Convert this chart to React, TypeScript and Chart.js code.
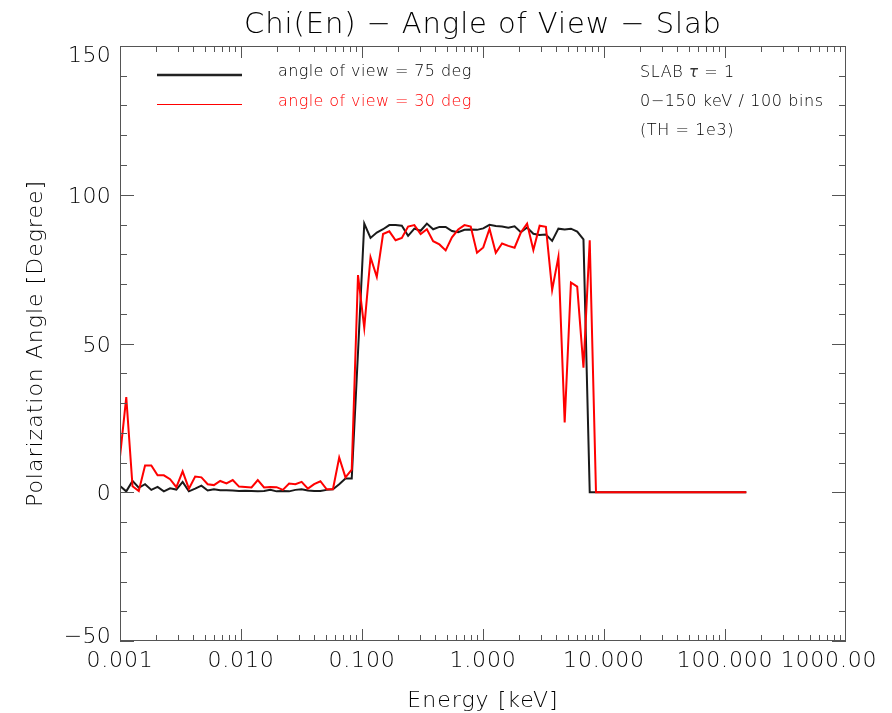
import React, { useEffect, useRef } from "react";
import { Chart, registerables } from "chart.js";

Chart.register(...registerables);

// Energy bins (keV): 0.001 - 150 keV, log-spaced
const energies = [
  0.001, 0.0011266, 0.0012692, 0.0014298, 0.0016108, 0.0018147, 0.0020444, 0.0023032, 0.0025947, 0.0029231,
  0.0032931, 0.00371, 0.0041796, 0.0047086, 0.0053046, 0.0059761, 0.0067325, 0.0075847, 0.0085447, 0.0096263,
  0.010845, 0.012217, 0.013764, 0.015506, 0.017469, 0.01968, 0.022171, 0.024977, 0.028139, 0.031701,
  0.035713, 0.040234, 0.045326, 0.051064, 0.057527, 0.064809, 0.073012, 0.082254, 0.092665, 0.10439,
  0.11761, 0.13249, 0.14926, 0.16816, 0.18944, 0.21342, 0.24044, 0.27087, 0.30515, 0.34378,
  0.38729, 0.43632, 0.49154, 0.55376, 0.62386, 0.70282, 0.79179, 0.89201, 1.0049, 1.1321,
  1.2754, 1.4369, 1.6187, 1.8236, 2.0545, 2.3145, 2.6075, 2.9375, 3.3093, 3.7282,
  4.2001, 4.7318, 5.3307, 6.0054, 6.7656, 7.622, 8.5867, 9.6736, 10.898, 12.277,
  13.832, 15.582, 17.555, 19.777, 22.28, 25.1, 28.277, 31.857, 35.889, 40.431,
  45.549, 51.315, 57.81, 65.127, 73.371, 82.658, 93.12, 104.91, 118.19, 133.15,
  150.0,
];

// angle of view = 75 deg (black)
const chi75 = [
  2.1, 0.3, 3.8, 1.5, 2.7, 0.8, 1.8, 0.3, 1.3, 0.9,
  3.5, 0.3, 1.2, 2.2, 0.6, 1.0, 0.7, 0.7, 0.6, 0.4,
  0.5, 0.4, 0.3, 0.4, 0.8, 0.3, 0.4, 0.3, 0.8, 1.0,
  0.6, 0.4, 0.4, 0.8, 1.0, 2.7, 4.6, 4.6, 47, 90.3,
  85.5, 87.3, 88.4, 89.8, 89.8, 89.6, 86.2, 88.6, 87.9, 90.3,
  88.4, 89.2, 89.2, 87.8, 87.4, 88.2, 88.3, 88.2, 88.7, 89.9,
  89.5, 89.3, 88.9, 89.4, 87.4, 89.0, 86.9, 86.5, 86.6, 84.5,
  88.6, 88.3, 88.6, 87.6, 85.0, 0, 0, 0, 0, 0,
  0, 0, 0, 0, 0, 0, 0, 0, 0, 0,
  0, 0, 0, 0, 0, 0, 0, 0, 0, 0,
  0,
];

// angle of view = 30 deg (red)
const chi30 = [
  12, 32, 2, 0.4, 9, 9, 5.7, 5.7, 4.4, 1.7,
  7, 1.2, 5.3, 5, 2.7, 2.4, 3.8, 3, 4.1, 1.9,
  1.8, 1.6, 4.1, 1.6, 1.8, 1.7, 0.8, 2.9, 2.7, 3.5,
  1.2, 2.7, 3.7, 1.0, 1.0, 11.7, 5, 7.6, 73, 55.3,
  79, 72.4, 86.8, 87.7, 84.7, 85.5, 89.3, 89.8, 86.8, 88.4,
  84.4, 83.3, 81.3, 85.7, 88.3, 89.8, 89.3, 80.5, 82.3, 88.6,
  80.5, 83.6, 82.8, 82.2, 87.3, 90.3, 81.4, 89.6, 89.2, 68,
  79.1, 23.5, 70.5, 69.1, 41.9, 84.7, 0, 0, 0, 0,
  0, 0, 0, 0, 0, 0, 0, 0, 0, 0,
  0, 0, 0, 0, 0, 0, 0, 0, 0, 0,
  0,
];

const xMajorTicks = [0.001, 0.01, 0.1, 1, 10, 100, 1000];
const xTickLabels = ["0.001", "0.010", "0.100", "1.000", "10.000", "100.000", "1000.00"];
const yMajorTicks = [-50, 0, 50, 100, 150];
const yTickLabels = ["\u221250", "0", "50", "100", "150"];
const yMinorStep = 10;

const titleText = "Chi(En) \u2212 Angle of View \u2212 Slab";
const xTitle = "Energy [keV]";
const yTitle = "Polarization Angle [Degree]";
const legendLabels = ["angle of view = 75 deg", "angle of view = 30 deg"];
const noteLines = ["0\u2212150 keV / 100 bins", "(TH = 1e3)"];

const TEXT = "#000";
const RED = "#ff0000";
const FAM = "'DejaVu Sans'";
const W = "200";

function drawText(
  ctx: CanvasRenderingContext2D,
  s: string,
  x: number,
  y: number,
  font: string,
  color: string,
  align: CanvasTextAlign = "left",
  ls = "0px",
  baseline: CanvasTextBaseline = "alphabetic"
) {
  ctx.font = font;
  ctx.fillStyle = color;
  ctx.textAlign = align;
  ctx.textBaseline = baseline;
  (ctx as any).letterSpacing = ls;
  ctx.fillText(s, x, y);
  const w = ctx.measureText(s).width;
  (ctx as any).letterSpacing = "0px";
  return w;
}

const idlPlugin = {
  id: "idlAxes",
  afterDatasetsDraw(chart: any) {
    const { ctx, chartArea: a, scales } = chart;
    const xs = scales.x;
    const ys = scales.y;
    ctx.save();
    ctx.strokeStyle = "#555";
    ctx.lineWidth = 1;
    ctx.strokeRect(Math.round(a.left) + 0.5, Math.round(a.top) + 0.5, a.right - a.left - 1, a.bottom - a.top - 1);

    // x ticks (inward, bottom and top)
    ctx.beginPath();
    for (let d = 0; d < xMajorTicks.length - 1; d++) {
      for (let m = 1; m <= 9; m++) {
        const v = xMajorTicks[d] * m;
        const px = Math.round(xs.getPixelForValue(v)) + 0.5;
        const len = m === 1 ? 12 : 6;
        ctx.moveTo(px, a.bottom);
        ctx.lineTo(px, a.bottom - len);
        ctx.moveTo(px, a.top);
        ctx.lineTo(px, a.top + len);
      }
    }
    // y ticks (inward, left and right)
    for (let v = yMajorTicks[0]; v <= yMajorTicks[yMajorTicks.length - 1]; v += yMinorStep) {
      const py = Math.round(ys.getPixelForValue(v)) + 0.5;
      const len = v % 50 === 0 ? 14 : 7;
      ctx.moveTo(a.left, py);
      ctx.lineTo(a.left + len, py);
      ctx.moveTo(a.right, py);
      ctx.lineTo(a.right - len, py);
    }
    ctx.stroke();

    // x tick labels
    const tickFont = `${W} 22px ${FAM}`;
    xMajorTicks.forEach((v, i) => {
      let px = xs.getPixelForValue(v);
      if (i === xMajorTicks.length - 1) px -= 17;
      drawText(ctx, xTickLabels[i], px, 667, tickFont, TEXT, "center", "0.8px");
    });
    // y tick labels
    yMajorTicks.forEach((v, i) => {
      let py = ys.getPixelForValue(v);
      if (i === yMajorTicks.length - 1) py += 8;
      if (i === 0) py -= 6;
      drawText(ctx, yTickLabels[i], a.left - 9, py + 8, tickFont, TEXT, "right", "0.3px");
    });

    // axis titles
    drawText(ctx, xTitle, (a.left + a.right) / 2, 707, `${W} 22px ${FAM}`, TEXT, "center", "1px");
    ctx.save();
    ctx.translate(36, (a.top + a.bottom) / 2);
    ctx.rotate(-Math.PI / 2);
    drawText(ctx, yTitle, 0, 0, `${W} 22px ${FAM}`, TEXT, "center", "1px", "middle");
    ctx.restore();

    // title
    drawText(ctx, titleText, (a.left + a.right) / 2, 33, `${W} 29px ${FAM}`, TEXT, "center", "0.9px");

    // legend
    ctx.strokeStyle = "#222";
    ctx.lineWidth = 2.5;
    ctx.beginPath();
    ctx.moveTo(157, 75);
    ctx.lineTo(242, 75);
    ctx.stroke();
    ctx.strokeStyle = RED;
    ctx.lineWidth = 1;
    ctx.beginPath();
    ctx.moveTo(157, 104.5);
    ctx.lineTo(242, 104.5);
    ctx.stroke();
    const lf = `${W} 16px ${FAM}`;
    drawText(ctx, legendLabels[0], 278, 76, lf, TEXT, "left", "0.4px");
    drawText(ctx, legendLabels[1], 278, 105.5, lf, RED, "left", "0.4px");

    // notes
    let x = 640;
    x += drawText(ctx, "SLAB ", x, 77, lf, TEXT, "left", "0.6px");
    x += drawText(ctx, "\u03c4", x, 77, `italic 15px ${FAM}`, "#333", "left", "0.6px");
    drawText(ctx, " = 1", x, 77, lf, TEXT, "left", "0.6px");
    drawText(ctx, noteLines[0], 640, 106, lf, TEXT, "left", "0.6px");
    drawText(ctx, noteLines[1], 640, 134.5, lf, TEXT, "left", "0.6px");

    ctx.restore();
  },
};

export default function App() {
  const ref = useRef<HTMLCanvasElement | null>(null);
  useEffect(() => {
    if (!ref.current) return;
    const chart = new Chart(ref.current, {
      type: "line",
      data: {
        datasets: [
          {
            label: legendLabels[1],
            data: energies.map((e, i) => ({ x: e, y: chi30[i] })),
            borderColor: RED,
            borderWidth: 2,
            pointRadius: 0,
            tension: 0,
            fill: false,
            order: 1,
          },
          {
            label: legendLabels[0],
            data: energies.map((e, i) => ({ x: e, y: chi75[i] })),
            borderColor: "#1a1a1a",
            borderWidth: 2,
            pointRadius: 0,
            tension: 0,
            fill: false,
            order: 2,
          },
        ],
      },
      options: {
        animation: false,
        responsive: false,
        devicePixelRatio: 1,
        layout: { padding: { left: 120, top: 46, right: 46, bottom: 72 } },
        plugins: {
          legend: { display: false },
          title: { display: false },
          tooltip: { enabled: false },
        },
        scales: {
          x: { type: "logarithmic", min: 0.001, max: 1000, display: false },
          y: { type: "linear", min: -50, max: 150, display: false },
        },
      },
      plugins: [idlPlugin],
    });
    return () => chart.destroy();
  }, []);
  return (
    <div style={{ position: "absolute", left: 0, top: 0, width: 892, height: 713, background: "#fff" }}>
      <canvas ref={ref} width={892} height={713} style={{ display: "block" }} />
    </div>
  );
}
